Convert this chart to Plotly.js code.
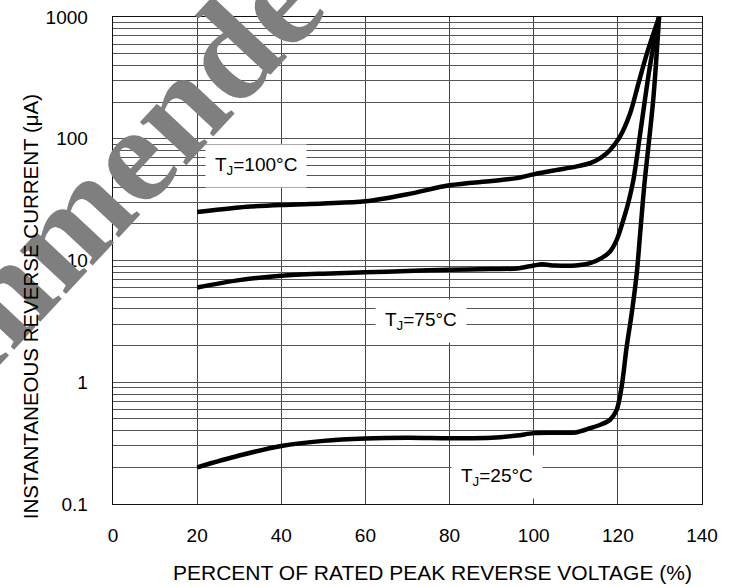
<!DOCTYPE html>
<html>
<head>
<meta charset="utf-8">
<script src="https://cdn.plot.ly/plotly-3.0.1.min.js"></script>
<style>
  html, body { margin: 0; padding: 0; background: #fff; }
  #chart { width: 736px; height: 587px; }
</style>
</head>
<body>
<div id="chart"></div>
<script>
// ---- Data ----
const xTickVals = [0, 20, 40, 60, 80, 100, 120, 140];
const xTickText = ['0', '20', '40', '60', '80', '100', '120', '140'];
const yDecades = [0.1, 1, 10, 100, 1000];
const yTickText = ['0.1', '1', '10', '100', '1000'];

const volt100 = [20, 30, 40, 50, 60, 70, 80, 90, 96, 100, 105, 110, 113.4, 116, 118.1, 120.5, 122.9, 124.9, 126.9, 129.8];
const cur100  = [25, 27.3, 28.6, 29.4, 30.6, 35, 41.5, 45, 47.5, 51, 55, 59, 63, 70, 80.5, 104, 161, 285, 500, 1000];

const volt75 = [20, 30, 40, 50, 60, 70, 80, 90, 96, 100, 102, 105, 110, 113.4, 116, 118.1, 119.7, 121.3, 122.6, 123.7, 125.3, 127.6, 129.8];
const cur75  = [6.0, 6.9, 7.5, 7.8, 8.0, 8.2, 8.4, 8.5, 8.6, 9.1, 9.3, 9.1, 9.1, 9.5, 10.4, 11.8, 14.7, 21.5, 31, 46, 110, 390, 1000];

const volt25 = [20, 30, 40, 50, 60, 70, 80, 90, 96, 100, 105, 110, 113.4, 116, 118.1, 119.7, 120.9, 122.1, 123.3, 124.5, 125.3, 126.3, 128.4, 129.8];
const cur25  = [0.2, 0.25, 0.30, 0.33, 0.345, 0.35, 0.347, 0.35, 0.365, 0.382, 0.385, 0.387, 0.42, 0.45, 0.49, 0.59, 0.92, 1.96, 3.7, 7.9, 16.7, 42, 208, 1000];

const labelTexts = ['T<sub>J</sub>=100°C', 'T<sub>J</sub>=75°C', 'T<sub>J</sub>=25°C'];
const labelX = [34, 73.2, 91.3];
const labelY = [59.6, 3.18, 0.168];

const xTitle = 'PERCENT OF RATED PEAK REVERSE VOLTAGE (%)';
const yTitle = 'INSTANTANEOUS REVERSE CURRENT (μA)';
const watermark = 'Not Recommended';

// ---- Build gridline tick set for log axis ----
const yGridVals = [];
const yGridText = [];
yDecades.forEach(function (d, i) {
  if (i === yDecades.length - 1) { yGridVals.push(d); yGridText.push(yTickText[i]); return; }
  for (let k = 1; k <= 9; k++) {
    yGridVals.push(d * k);
    yGridText.push(k === 1 ? yTickText[i] : ' ');
  }
});

const lineStyle = { color: '#000', width: 4.5, shape: 'spline', smoothing: 0.9 };
const traces = [
  { x: volt100, y: cur100, mode: 'lines', line: lineStyle, hoverinfo: 'skip', showlegend: false },
  { x: volt75,  y: cur75,  mode: 'lines', line: lineStyle, hoverinfo: 'skip', showlegend: false },
  { x: volt25,  y: cur25,  mode: 'lines', line: lineStyle, hoverinfo: 'skip', showlegend: false }
];

const font = { family: 'Liberation Sans, Arial, sans-serif', color: '#000' };

const annotations = [];
// watermark (drawn first so other text lies above it)
annotations.push({
  xref: 'paper', yref: 'paper', x: -0.25, y: 0.35,
  text: watermark, showarrow: false, textangle: -47,
  xanchor: 'center', yanchor: 'middle',
  font: { family: 'Liberation Serif, Times New Roman, serif', size: 138, color: '#7f7f7f', weight: 'bold' }
});
// curve labels
for (let i = 0; i < labelTexts.length; i++) {
  annotations.push({
    xref: 'x', yref: 'y', x: labelX[i], y: Math.log10(labelY[i]),
    text: labelTexts[i], showarrow: false,
    xanchor: 'center', yanchor: 'middle',
    bgcolor: '#fff', borderpad: 9,
    font: Object.assign({ size: 19 }, font)
  });
}
// axis titles
annotations.push({
  xref: 'paper', yref: 'paper', x: 0.542, y: -0.14, yanchor: 'middle', xanchor: 'center',
  text: xTitle, showarrow: false, font: Object.assign({ size: 21 }, font)
});
annotations.push({
  xref: 'paper', yref: 'paper', x: -0.141, y: 0.406, xanchor: 'center', yanchor: 'middle',
  text: yTitle, showarrow: false, textangle: -90, font: Object.assign({ size: 20.5 }, font)
});

const layout = {
  width: 736, height: 587,
  margin: { l: 113, r: 34, t: 17, b: 83, pad: 0 },
  paper_bgcolor: '#fff', plot_bgcolor: '#fff',
  font: Object.assign({ size: 19 }, font),
  showlegend: false,
  xaxis: {
    range: [0, 140], tickvals: xTickVals, ticktext: xTickText,
    showgrid: true, gridcolor: '#444', gridwidth: 1,
    showline: true, linecolor: '#111', linewidth: 1.3, mirror: true,
    ticks: '', ticklabelstandoff: 14, zeroline: false,
    tickfont: Object.assign({ size: 19 }, font), fixedrange: true
  },
  yaxis: {
    type: 'log', range: [-1, 3], tickvals: yGridVals, ticktext: yGridText,
    showgrid: true, gridcolor: '#555', gridwidth: 1,
    showline: true, linecolor: '#111', linewidth: 1.3, mirror: true,
    ticks: '', ticklabelstandoff: 20, zeroline: false,
    tickfont: Object.assign({ size: 19 }, font), fixedrange: true
  },
  annotations: annotations
};

Plotly.newPlot('chart', traces, layout, { displayModeBar: false, staticPlot: true });
</script>
</body>
</html>
